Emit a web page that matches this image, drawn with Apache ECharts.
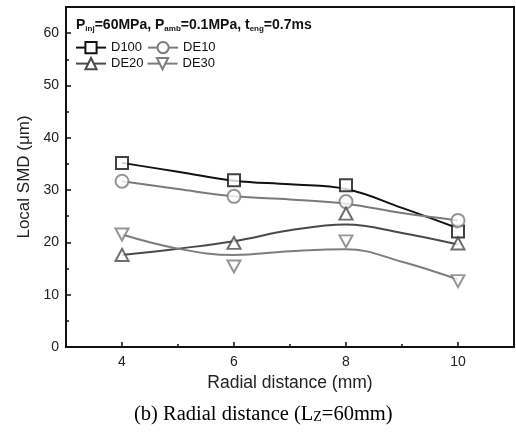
<!DOCTYPE html>
<html>
<head>
<meta charset="utf-8">
<script src="https://cdn.jsdelivr.net/npm/echarts@6/dist/echarts.min.js"></script>
<style>
  html, body { margin: 0; padding: 0; background: #fff; }
  #chart { width: 516px; height: 432px; }
</style>
</head>
<body>
<div id="chart"></div>
<script>
// measured points (radial distance, mm)
const radial = [4, 6, 8, 10];
const d100 = [35.2, 31.9, 30.9, 22.1];
const de10 = [31.7, 28.8, 27.8, 24.2];
const de20 = [17.6, 19.9, 25.5, 19.8];
const de30 = [21.5, 15.4, 20.2, 12.6];

// fitted curves
const fitX = [4, 5, 6, 7, 8, 9, 10];
const d100Fit = [35.2, 33.5, 31.8, 31.1, 30.2, 26.6, 22.7];
const de10Fit = [31.7, 30.2, 28.8, 28.2, 27.4, 25.6, 24.2];
const de20Fit = [17.6, 18.8, 20.2, 22.3, 23.4, 21.8, 19.6];
const de30Fit = [21.5, 18.8, 17.6, 18.3, 18.7, 16.3, 12.9];

const xMajor = [4, 6, 8, 10];
const xMinor = [5, 7, 9];
const yMajor = [0, 10, 20, 30, 40, 50, 60];
const yMinor = [5, 15, 25, 35, 45, 55];

const pair = (xs, ys) => xs.map((x, i) => [x, ys[i]]);

const styles = [
  { name: 'D100', color: '#111', symbol: 'emptyRect', size: 12, rotate: 0, fit: d100Fit, pts: d100 },
  { name: 'DE10', color: '#7a7a7a', symbol: 'emptyCircle', size: 13, rotate: 0, fit: de10Fit, pts: de10 },
  { name: 'DE20', color: '#4a4a4a', symbol: 'emptyTriangle', size: [13, 12], rotate: 0, fit: de20Fit, pts: de20 },
  { name: 'DE30', color: '#7d7d7d', symbol: 'emptyTriangle', size: [13, 12], rotate: 180, fit: de30Fit, pts: de30 }
];

const series = [];
styles.forEach(s => {
  series.push({
    name: s.name,
    type: 'line',
    smooth: 0.4,
    data: pair(fitX, s.fit),
    symbol: s.symbol,
    symbolRotate: s.rotate,
    showSymbol: false,
    itemStyle: { color: s.color, borderWidth: 2 },
    lineStyle: { color: s.color, width: 2 },
    emphasis: { disabled: true },
    silent: true,
    z: 2
  });
});
styles.forEach(s => {
  series.push({
    name: s.name + ' pts',
    type: 'scatter',
    data: pair(radial, s.pts),
    symbol: s.symbol,
    symbolSize: s.size,
    symbolRotate: s.rotate,
    itemStyle: { color: s.color, borderWidth: 2 },
    emphasis: { disabled: true },
    silent: true,
    z: 3
  });
});

const chart = echarts.init(document.getElementById('chart'));
const font = 'Liberation Sans, Arial, sans-serif';
const serif = 'Liberation Serif, Times New Roman, serif';

chart.setOption({
  animation: false,
  textStyle: { fontFamily: font },
  grid: {
    left: 66, top: 7, right: 2, bottom: 85,
    show: true, borderColor: '#111', borderWidth: 2
  },
  legend: [
    {
      data: ['D100', 'DE10'],
      left: 75, top: 41, padding: 0,
      itemWidth: 30, itemHeight: 14, itemGap: 5,
      textStyle: { fontSize: 13, color: '#111', fontFamily: font }
    },
    {
      data: ['DE20', 'DE30'],
      left: 75, top: 57, padding: 0,
      itemWidth: 30, itemHeight: 14, itemGap: 3,
      textStyle: { fontSize: 13, color: '#111', fontFamily: font }
    }
  ],
  xAxis: [
    {
      type: 'value', min: 3, max: 11, interval: 1,
      position: 'bottom',
      name: 'Radial distance (mm)',
      nameLocation: 'middle', nameGap: 26,
      nameTextStyle: { fontSize: 17.5, color: '#222' },
      axisLine: { lineStyle: { color: '#111', width: 2 } },
      axisTick: { inside: true, length: 5, customValues: xMajor, lineStyle: { color: '#111', width: 1.5 } },
      axisLabel: { customValues: xMajor, fontSize: 14, color: '#222', margin: 8 },
      splitLine: { show: false }
    },
    {
      type: 'value', min: 3, max: 11, interval: 1,
      position: 'bottom',
      axisLine: { show: false },
      axisTick: { inside: true, length: 3, customValues: xMinor, lineStyle: { color: '#111', width: 1.5 } },
      axisLabel: { show: false },
      splitLine: { show: false }
    }
  ],
  yAxis: [
    {
      type: 'value', min: 0, max: 65, interval: 10,
      position: 'left',
      name: 'Local SMD (\u03bcm)',
      nameLocation: 'middle', nameGap: 32,
      nameTextStyle: { fontSize: 17, color: '#222' },
      axisLine: { show: true, lineStyle: { color: '#111', width: 2 } },
      axisTick: { show: true, inside: true, length: 5, customValues: yMajor, lineStyle: { color: '#111', width: 1.5 } },
      axisLabel: { customValues: yMajor, fontSize: 14, color: '#222', margin: 7 },
      splitLine: { show: false }
    },
    {
      type: 'value', min: 0, max: 65, interval: 10,
      position: 'left',
      axisLine: { show: false },
      axisTick: { show: true, inside: true, length: 3, customValues: yMinor, lineStyle: { color: '#111', width: 1.5 } },
      axisLabel: { show: false },
      splitLine: { show: false }
    }
  ],
  graphic: [
    {
      type: 'text', left: 76, top: 18,
      style: {
        text: '{b|P}{s|inj}{b|=60MPa, P}{s|amb}{b|=0.1MPa, t}{s|eng}{b|=0.7ms}',
        rich: {
          b: { fontSize: 14, fontWeight: 'bold', fontFamily: font, fill: '#111', lineHeight: 18 },
          s: { fontSize: 8, fontWeight: 'bold', fontFamily: font, fill: '#111', padding: [8, 0, 0, 0] }
        }
      }
    },
    {
      type: 'text', left: 134, top: 404,
      style: {
        text: '(b) Radial distance (L{z|Z}=60mm)',
        rich: {
          z: { fontSize: 14, fontFamily: serif, fill: '#000', padding: [5, 0, 0, 0] }
        },
        fontSize: 20.5,
        fontFamily: serif,
        fill: '#000'
      }
    }
  ],
  series: series
});

window.addEventListener('resize', () => {
  chart.resize();
});
</script>
</body>
</html>
